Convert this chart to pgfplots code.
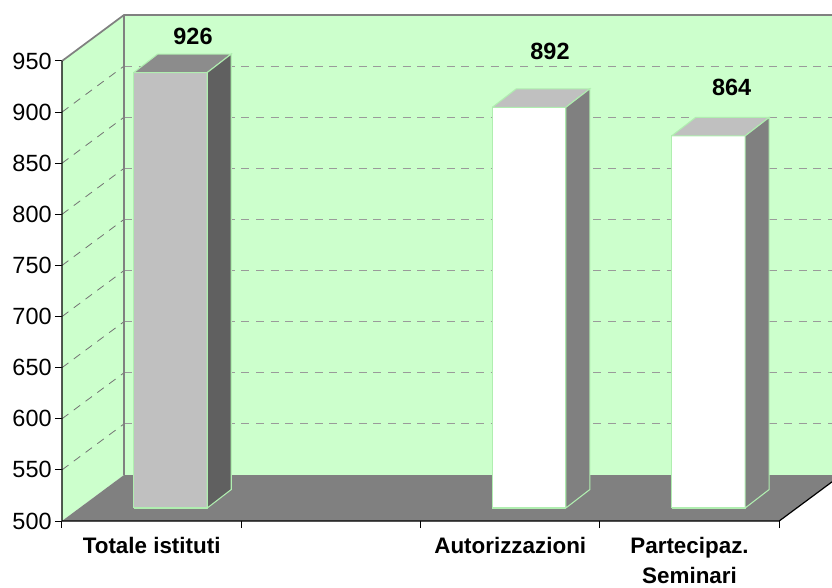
\documentclass[border=0pt]{standalone}
\usepackage{pgfplots}
\pgfplotsset{compat=1.18}
\usepackage{fontspec}
\setmainfont{Liberation Sans}
\definecolor{wallgreen}{HTML}{CCFFCC}
\definecolor{floorgray}{HTML}{808080}
\definecolor{barline}{HTML}{B0EEB0}
\definecolor{gridgray}{HTML}{9A9A9A}
\definecolor{edgegray}{HTML}{808080}
\definecolor{topA}{HTML}{8C8C8C}
\definecolor{sideA}{HTML}{606060}
\definecolor{frontA}{HTML}{C0C0C0}
\definecolor{topB}{HTML}{C0C0C0}
\definecolor{sideB}{HTML}{808080}
\begin{document}
\begin{tikzpicture}
\begin{axis}[
  scale only axis, width=577.5pt, height=379.5pt,
  xmin=0, xmax=4.2945, ymin=500, ymax=995,
  clip=false,
  axis x line*=bottom, axis y line*=left,
  x axis line style={draw=none}, y axis line style={draw=none},
  xtick={0,1,2,3,4}, xticklabels={,,,,},
  extra x ticks={0.5,1.5,2.5,3.5},
  extra x tick labels={Totale istituti,,Autorizzazioni,{Partecipaz.\\Seminari}},
  extra x tick style={major tick length=0pt,
    xticklabel style={font=\fontsize{16.8pt}{22.5pt}\selectfont\bfseries, align=center, anchor=north, yshift=-9pt}},
  ytick={500,550,...,950},
  tick align=outside, major tick length=5.25pt,
  tick style={black, line width=0.75pt},
  yticklabel style={font=\fontsize{17.6pt}{20pt}\selectfont, xshift=1pt},
  /pgf/number format/assume math mode=true,
  no markers,
]
% back wall
\addplot[fill=wallgreen, draw=none] coordinates {(0.3458,545) (4.2945,545) (4.2945,995) (0.3458,995) (0.3458,545)};
% left wall
\addplot[fill=wallgreen, draw=none] coordinates {(0,500) (0.3458,545) (0.3458,995) (0,950) (0,500)};
% gridlines
\addplot[gridgray, line width=0.9pt, dash pattern=on 6pt off 5pt, unbounded coords=jump] coordinates {
 (0.3458,595) (4.2945,595) (nan,nan)
 (0.3458,645) (4.2945,645) (nan,nan)
 (0.3458,695) (4.2945,695) (nan,nan)
 (0.3458,745) (4.2945,745) (nan,nan)
 (0.3458,795) (4.2945,795) (nan,nan)
 (0.3458,845) (4.2945,845) (nan,nan)
 (0.3458,895) (4.2945,895) (nan,nan)
 (0.3458,945) (4.2945,945)};
\addplot[gray!90!black, line width=0.6pt, dash pattern=on 6pt off 5pt, unbounded coords=jump] coordinates {
 (0,550) (0.3458,595) (nan,nan)
 (0,600) (0.3458,645) (nan,nan)
 (0,650) (0.3458,695) (nan,nan)
 (0,700) (0.3458,745) (nan,nan)
 (0,750) (0.3458,795) (nan,nan)
 (0,800) (0.3458,845) (nan,nan)
 (0,850) (0.3458,895) (nan,nan)
 (0,900) (0.3458,945)};
% wall edges
\addplot[edgegray, line width=1.3pt] coordinates {(0,950) (0.3458,995) (4.2945,995)};
\addplot[edgegray, line width=1.1pt] coordinates {(0.3458,545) (0.3458,995)};
% floor
\addplot[fill=floorgray, draw=none] coordinates {(0,500) (0.3458,545) (4.2945,545) (4.2945,538.3) (4,500) (0,500)};
% bar 1: Totale istituti = 926
\addplot[fill=frontA, draw=barline, line width=0.8pt] coordinates {(0.400,512.7) (0.810,512.7) (0.810,938.7) (0.400,938.7) (0.400,512.7)};
\addplot[fill=topA, draw=barline, line width=0.8pt] coordinates {(0.400,938.7) (0.810,938.7) (0.944,956.8) (0.534,956.8) (0.400,938.7)};
\addplot[fill=sideA, draw=barline, line width=0.8pt] coordinates {(0.810,512.7) (0.944,530.8) (0.944,956.8) (0.810,938.7) (0.810,512.7)};
% bar 3: Autorizzazioni = 892
\addplot[fill=white, draw=barline, line width=0.8pt] coordinates {(2.400,512.7) (2.810,512.7) (2.810,904.7) (2.400,904.7) (2.400,512.7)};
\addplot[fill=topB, draw=barline, line width=0.8pt] coordinates {(2.400,904.7) (2.810,904.7) (2.944,922.8) (2.534,922.8) (2.400,904.7)};
\addplot[fill=sideB, draw=barline, line width=0.8pt] coordinates {(2.810,512.7) (2.944,530.8) (2.944,922.8) (2.810,904.7) (2.810,512.7)};
% bar 4: Partecipaz. Seminari = 864
\addplot[fill=white, draw=barline, line width=0.8pt] coordinates {(3.400,512.7) (3.810,512.7) (3.810,876.7) (3.400,876.7) (3.400,512.7)};
\addplot[fill=topB, draw=barline, line width=0.8pt] coordinates {(3.400,876.7) (3.810,876.7) (3.944,894.8) (3.534,894.8) (3.400,876.7)};
\addplot[fill=sideB, draw=barline, line width=0.8pt] coordinates {(3.810,512.7) (3.944,530.8) (3.944,894.8) (3.810,876.7) (3.810,512.7)};
% axis lines
\addplot[black, line width=0.9pt] coordinates {(0,950) (0,500) (4,500) (4.2945,538.3)};
% value labels
\addplot[draw=none, nodes near coords, point meta=explicit symbolic,
  every node near coord/.append style={font=\fontsize{17.6pt}{20pt}\selectfont\bfseries, inner sep=0pt}]
  coordinates {(0.7306,965.7) [926] (2.7217,951.0) [892] (3.7348,915.8) [864]};
\end{axis}
\pgfresetboundingbox
\path (-46.5pt,-49.5pt) rectangle (577.5pt,390.75pt);
\end{tikzpicture}
\end{document}
